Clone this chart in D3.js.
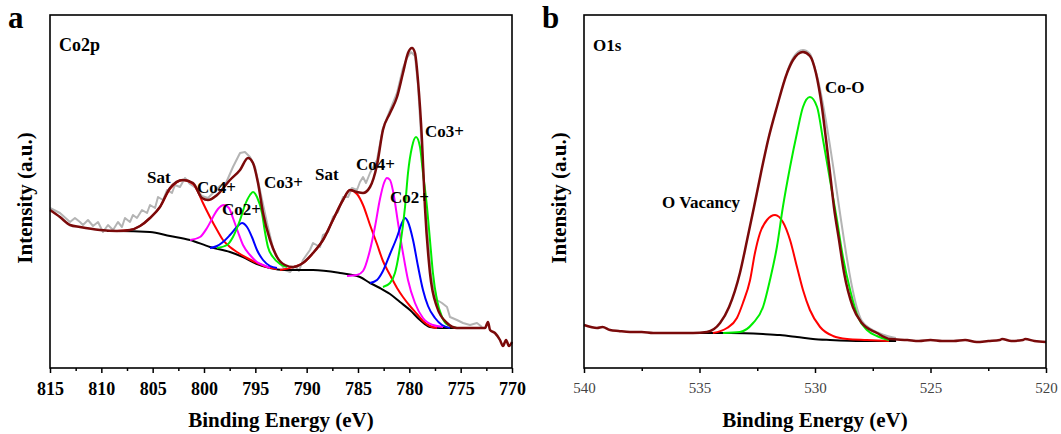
<!DOCTYPE html>
<html>
<head>
<meta charset="utf-8">
<script src="https://cdn.jsdelivr.net/npm/d3@7"></script>
<style>
  body { margin: 0; background: #fff; }
  text { font-family: "Liberation Serif", "Times New Roman", serif; }
</style>
</head>
<body>
<div id="chart"></div>
<script>
// ---- data (binding energy eV, intensity a.u.) ----
var co2pTicks = [815, 810, 805, 800, 795, 790, 785, 780, 775, 770];
var o1sTicks = [540, 535, 530, 525, 520];

var co2pRaw = [
  [815.0, 160], [814.03, 155], [813.05, 146], [812.57, 150], [812.08, 146], [811.79, 143],
  [811.3, 148], [810.81, 142], [810.32, 146], [809.84, 136], [809.35, 143], [808.86, 138],
  [808.38, 146], [807.99, 141], [807.7, 150], [807.21, 146], [806.92, 153], [806.53, 150],
  [806.04, 158], [805.55, 155], [805.26, 163], [804.77, 160], [804.48, 171], [803.99, 168],
  [803.6, 178], [803.12, 175], [802.83, 183], [802.34, 181], [801.85, 190], [801.36, 184],
  [800.78, 180], [800.2, 172], [799.61, 170], [799.03, 176], [798.44, 182], [797.86, 185],
  [797.18, 201], [796.49, 215], [796.01, 216], [795.52, 211], [795.03, 201], [794.55, 178],
  [793.86, 145], [793.28, 120], [792.6, 105], [792.11, 98], [791.62, 96], [791.14, 102],
  [790.75, 97], [790.36, 108], [789.68, 118], [789.38, 125], [788.7, 121], [788.41, 133],
  [787.92, 136], [787.44, 151], [786.95, 156], [786.46, 171], [785.97, 171], [785.59, 180],
  [785.1, 178], [784.81, 186], [784.51, 191], [784.22, 185], [783.83, 195], [783.15, 208],
  [782.57, 240], [781.88, 258], [781.2, 275], [780.62, 300], [780.23, 310], [779.84, 316],
  [779.45, 312], [779.16, 283], [778.77, 218], [778.38, 153], [777.89, 93], [777.31, 68],
  [776.82, 65], [776.33, 61], [776.04, 51], [775.36, 48], [774.77, 45], [774.09, 43],
  [773.41, 45], [772.92, 41]
];

var co2pEnvelope = [
  [815.0, 158], [814.03, 151], [813.05, 143], [812.08, 141], [810.13, 138], [808.47, 137],
  [807.21, 138], [806.23, 142], [805.26, 150], [804.29, 161], [803.31, 180], [802.05, 188],
  [801.07, 185], [800.2, 170], [799.61, 168], [798.73, 173], [797.47, 188], [796.49, 198],
  [795.71, 210], [795.23, 205], [794.74, 185], [794.25, 155], [793.57, 128], [792.89, 111],
  [792.11, 103], [791.33, 101], [790.36, 105], [789.38, 115], [788.41, 128], [787.44, 148],
  [786.46, 168], [785.78, 178], [785.1, 176], [784.51, 175], [783.83, 181], [783.15, 203],
  [782.57, 238], [781.88, 255], [781.2, 271], [780.62, 295], [780.13, 315], [779.74, 320],
  [779.45, 315], [779.16, 288], [778.77, 228], [778.48, 161], [777.99, 95], [777.31, 61],
  [776.33, 45], [775.36, 40], [774.09, 40], [773.0, 40], [772.63, 40], [772.34, 46],
  [772.14, 38], [771.66, 35], [771.17, 28], [770.88, 22], [770.58, 28], [770.29, 22], [770.0, 26]
];

var co2pBackground = [
  [809.45, 137], [808.47, 137], [805.26, 136], [803.31, 132], [801.36, 128], [799.42, 121],
  [797.47, 116], [796.2, 111], [794.84, 104], [793.57, 100], [792.31, 98], [789.38, 98],
  [786.75, 95], [784.81, 91], [783.83, 85], [782.86, 80], [781.88, 74], [780.91, 66],
  [779.94, 58], [778.96, 48], [777.99, 41], [777.01, 40], [775.0, 40]
];

var co2pSat1 = [
  [808.5, 137], [807.21, 138], [806.23, 142], [805.26, 150], [804.29, 161], [803.31, 179],
  [802.05, 188], [801.07, 184], [800.68, 178], [800.1, 165], [799.42, 151], [798.73, 138],
  [798.15, 128], [797.47, 121], [796.79, 116], [795.81, 110], [794.84, 105], [793.86, 101],
  [792.89, 99]
];
var co2pCo4a = [
  [801.36, 128], [800.39, 131], [799.71, 140], [799.12, 151], [798.64, 159], [798.05, 163],
  [797.57, 160], [797.18, 150], [796.69, 136], [796.2, 123], [795.52, 113], [794.84, 106],
  [794.25, 103], [793.57, 100]
];
var co2pCo2a = [
  [799.42, 120], [798.73, 122], [798.15, 126], [797.47, 133], [796.79, 141], [796.3, 145],
  [795.81, 141], [795.33, 131], [794.84, 118], [794.25, 108], [793.57, 102], [792.89, 100]
];
var co2pCo3a = [
  [798.73, 120], [797.76, 123], [797.18, 131], [796.49, 148], [796.01, 163], [795.52, 173],
  [795.23, 176], [794.84, 171], [794.35, 155], [794.06, 136], [793.77, 121], [793.28, 111],
  [792.6, 104], [791.92, 101]
];
var co2pSat2 = [
  [792.6, 98], [790.36, 105], [789.38, 115], [788.41, 128], [787.44, 148], [786.46, 168],
  [785.78, 178], [785.1, 174], [784.51, 163], [783.83, 143], [783.15, 124], [782.57, 107],
  [781.88, 93], [781.2, 80], [780.62, 71], [779.94, 62], [779.26, 54], [778.67, 47],
  [777.99, 42], [777.31, 40]
];
var co2pCo4b = [
  [786.07, 92], [785.1, 93], [784.51, 97], [783.83, 118], [783.35, 141], [782.86, 169],
  [782.47, 185], [782.18, 190], [781.88, 188], [781.59, 177], [781.1, 145], [780.62, 115],
  [780.13, 88], [779.45, 65], [778.67, 50], [777.7, 43], [776.72, 41]
];
var co2pCo2b = [
  [783.83, 85], [783.15, 88], [782.57, 97], [781.88, 114], [781.2, 131], [780.72, 145],
  [780.42, 150], [780.13, 146], [779.64, 128], [779.16, 102], [778.67, 78], [778.18, 62],
  [777.5, 50], [776.82, 43], [776.04, 40]
];
var co2pCo3b = [
  [782.57, 81], [781.88, 85], [781.4, 95], [780.91, 121], [780.42, 161], [780.13, 195],
  [779.74, 221], [779.35, 231], [778.96, 221], [778.67, 195], [778.28, 161], [777.99, 128],
  [777.7, 95], [777.31, 68], [776.82, 51], [776.24, 43], [775.36, 40]
];

var o1sRaw = [
  [531.21, 296], [530.95, 310], [530.52, 318], [530.22, 314], [529.96, 296], [527.97, 47],
  [527.5, 38], [527.0, 33], [526.5, 30]
];
var o1sEnvelope = [
  [540.0, 43], [539.7, 41], [539.44, 40], [539.2, 41], [538.87, 38], [538.5, 37], [538.01, 36],
  [537.5, 36], [537.0, 35], [536.71, 35], [536.0, 35], [535.28, 35], [534.68, 36], [534.11, 45],
  [533.72, 61], [533.25, 95], [532.94, 128], [532.64, 161], [532.34, 195], [532.03, 228],
  [531.65, 261], [531.21, 295], [530.95, 308], [530.52, 316], [530.22, 312], [529.96, 295],
  [529.7, 261], [529.52, 228], [529.35, 195], [529.18, 161], [528.96, 128], [528.74, 95],
  [528.36, 61], [527.97, 45], [527.32, 35], [526.75, 29], [526.0, 28], [525.5, 27], [525.0, 28],
  [524.5, 27], [524.0, 27], [523.5, 28], [523.0, 26], [522.5, 27], [522.0, 28], [521.9, 29],
  [521.5, 27], [521.0, 28], [520.9, 29], [520.5, 27], [520.0, 26]
];
var o1sBackground = [
  [536.02, 35], [534.98, 35], [533.68, 35], [532.25, 34], [531.52, 33], [530.78, 31],
  [530.09, 29], [529.35, 28], [527.92, 27], [526.49, 27]
];
var o1sVacancy = [
  [534.42, 35], [533.81, 40], [533.38, 50], [533.12, 65], [532.81, 88], [532.6, 115],
  [532.38, 135], [532.08, 148], [531.73, 153], [531.39, 146], [531.08, 128], [530.78, 101],
  [530.52, 78], [530.22, 58], [529.78, 41], [529.22, 32], [528.61, 29], [527.75, 28],
  [526.8, 27]
];
var o1sCoO = [
  [533.98, 35], [533.25, 36], [532.68, 45], [532.25, 61], [531.95, 88], [531.65, 121],
  [531.39, 161], [531.08, 201], [530.78, 235], [530.52, 261], [530.22, 271], [529.91, 261],
  [529.65, 228], [529.35, 188], [529.05, 148], [528.79, 111], [528.48, 78], [528.14, 51],
  [527.75, 38], [527.32, 32], [526.8, 28]
];

// ---- layout ----
var width = 1061;
var height = 434;
var plotTop = 15;
var plotBottom = 368;

var svg = d3.select("#chart").append("svg")
  .attr("width", width)
  .attr("height", height);

var yScale = d3.scaleLinear().domain([0, 353]).range([plotBottom, plotTop]);

function drawPanel(opts) {
  var x = d3.scaleLinear().domain(opts.domain).range([opts.x0, opts.x1]);
  var g = svg.append("g");

  var smooth = d3.line()
    .x(d => x(d[0]))
    .y(d => yScale(d[1]))
    .curve(d3.curveMonotoneX);
  var jagged = d3.line()
    .x(d => x(d[0]))
    .y(d => yScale(d[1]));

  opts.series.forEach(function(s) {
    g.append("path")
      .attr("d", (s.raw ? jagged : smooth)(s.values))
      .attr("fill", "none")
      .attr("stroke", s.color)
      .attr("stroke-width", s.width)
      .attr("stroke-linejoin", "round");
  });

  // frame
  g.append("rect")
    .attr("x", opts.x0)
    .attr("y", plotTop)
    .attr("width", opts.x1 - opts.x0)
    .attr("height", plotBottom - plotTop)
    .attr("fill", "none")
    .attr("stroke", "#000")
    .attr("stroke-width", 1.6);

  // minor ticks
  var minor = opts.ticks.slice(0, -1).map((t, i) => (t + opts.ticks[i + 1]) / 2);
  g.append("g")
    .attr("transform", `translate(0, ${plotBottom})`)
    .call(d3.axisBottom(x).tickValues(minor).tickSize(3).tickFormat(""))
    .call(a => a.select(".domain").remove())
    .selectAll("line").attr("stroke-width", 1.5);

  var axis = g.append("g")
    .attr("transform", `translate(0, ${plotBottom})`)
    .call(d3.axisBottom(x).tickValues(opts.ticks).tickSize(5).tickFormat(d3.format("d")));
  axis.select(".domain").remove();
  axis.selectAll("line").attr("stroke-width", 1.5);
  axis.selectAll("text")
    .attr("y", opts.tickY)
    .attr("dy", null)
    .style("font-family", '"Liberation Serif", serif')
    .style("font-size", opts.tickFont)
    .style("font-weight", opts.tickWeight)
    .attr("fill", opts.tickColor);

  g.append("text")
    .attr("x", (opts.x0 + opts.x1) / 2)
    .attr("y", 427)
    .attr("text-anchor", "middle")
    .style("font-size", "21px")
    .style("font-weight", "bold")
    .text("Binding Energy (eV)");

  g.append("text")
    .attr("transform", `translate(${opts.x0 - 18}, 198) rotate(-90)`)
    .attr("text-anchor", "middle")
    .style("font-size", "21px")
    .style("font-weight", "bold")
    .text("Intensity (a.u.)");

  g.append("text")
    .attr("x", opts.x0 - 42)
    .attr("y", 28)
    .style("font-size", "31px")
    .style("font-weight", "bold")
    .text(opts.letter);

  g.append("text")
    .attr("x", opts.x0 + 9)
    .attr("y", 51)
    .style("font-size", opts.titleFont)
    .style("font-weight", "bold")
    .text(opts.title);

  opts.labels.forEach(function(l) {
    g.append("text")
      .attr("x", x(l[1]))
      .attr("y", yScale(l[2]))
      .style("font-size", "17px")
      .style("font-weight", "bold")
      .text(l[0]);
  });
}

drawPanel({
  domain: [815, 770], x0: 50, x1: 512,
  ticks: co2pTicks, tickY: 27, tickFont: "18px", tickWeight: "bold", tickColor: "#000",
  letter: "a", title: "Co2p", titleFont: "18px",
  series: [
    { values: co2pRaw, color: "#b4b4b4", width: 2, raw: true },
    { values: co2pBackground, color: "#000", width: 2 },
    { values: co2pSat1, color: "#ff0000", width: 2 },
    { values: co2pCo4a, color: "#ff00ff", width: 2 },
    { values: co2pCo2a, color: "#0000ff", width: 2 },
    { values: co2pCo3a, color: "#00ee00", width: 2 },
    { values: co2pSat2, color: "#ff0000", width: 2 },
    { values: co2pCo4b, color: "#ff00ff", width: 2 },
    { values: co2pCo2b, color: "#0000ff", width: 2 },
    { values: co2pCo3b, color: "#00ee00", width: 2 },
    { values: co2pEnvelope, color: "#7a0a0a", width: 2.5 }
  ],
  labels: [
    ["Sat", 805.55, 185], ["Co4+", 800.68, 175], ["Co2+", 798.25, 153], ["Co3+", 794.16, 180],
    ["Sat", 789.19, 188], ["Co4+", 785.2, 198], ["Co2+", 781.88, 165], ["Co3+", 778.47, 231]
  ]
});

drawPanel({
  domain: [540, 520], x0: 584, x1: 1046,
  ticks: o1sTicks, tickY: 25, tickFont: "15px", tickWeight: "normal", tickColor: "#444",
  letter: "b", title: "O1s", titleFont: "17px",
  series: [
    { values: o1sRaw, color: "#b4b4b4", width: 2 },
    { values: o1sBackground, color: "#000", width: 2 },
    { values: o1sVacancy, color: "#ff0000", width: 2 },
    { values: o1sCoO, color: "#00ee00", width: 2 },
    { values: o1sEnvelope, color: "#7a0a0a", width: 2.5 }
  ],
  labels: [
    ["Co-O", 529.57, 275], ["O Vacancy", 536.62, 160]
  ]
});
</script>
</body>
</html>
